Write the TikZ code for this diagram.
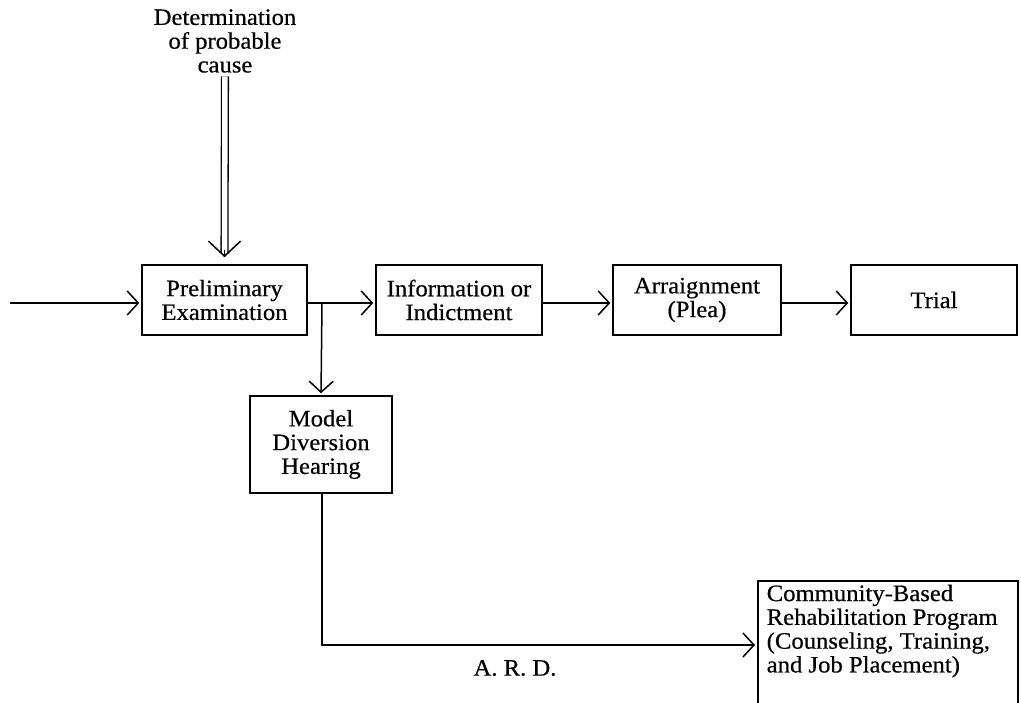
\documentclass[tikz,border=0pt]{standalone}
\usepackage{fontspec}
\setmainfont{Liberation Serif}[FakeStretch=1.05, FakeBold=0.5]
\usetikzlibrary{arrows.meta}
\begin{document}
\begin{tikzpicture}[x=1pt,y=-1pt,
  line width=1.5pt,
  font=\fontsize{23.5}{23.8}\selectfont,
  box/.style={draw, rectangle, align=center, inner sep=0pt},
  arr/.style={-{Straight Barb[length=11pt,width=24pt,line width=1.5pt]}, shorten >=2pt},
  bigarr/.style={-{Straight Barb[length=15pt,width=32pt,line width=1.5pt]}, shorten >=7pt},
]
\useasboundingbox (0,0) rectangle (1021,703);
% boxes
\node[box, minimum width=165pt, minimum height=70pt] (prelim) at (224.5,300) {Preliminary\\Examination};
\node[box, minimum width=166pt, minimum height=70pt] (info) at (459,300) {Information or\\Indictment};
\node[box, minimum width=168pt, minimum height=70pt] (arraign) at (697,300) {Arraignment\\(Plea)};
\node[box, minimum width=166pt, minimum height=70pt] (trial) at (934,300) {Trial};
\node[box, minimum width=142pt, minimum height=97pt] (model) at (321,444.5) {Model\\Diversion\\Hearing};
\node[box, anchor=north west, minimum width=260pt, minimum height=130pt] (comm) at (757,580) {};
\node[anchor=north west, align=left, inner sep=0pt] (commtext) at (766,584) {Community-Based\\Rehabilitation Program\\(Counseling, Training,\\and Job Placement)};
% free text
\node[align=center, inner sep=0pt] (det) at (225,41) {Determination\\of probable\\cause};
\node[inner sep=0pt] (ard) at (515,668) {A. R. D.};
% coordinates
\coordinate (start) at (10,303);
\coordinate (br) at (322,303);
\coordinate (turn) at (322,645);
% connectors
\draw[double, double distance=5.5pt, line width=1.3pt, shorten <=3pt] (det.south) -- ([yshift=11pt]prelim.north);
\draw[bigarr] ([yshift=14pt]prelim.north) -- (prelim.north);
\draw[arr] (start) -- (start -| prelim.west);
\draw[arr] (prelim.east |- br) -- (info.west |- br);
\draw[arr] (br) -- (model.north);
\draw[arr] (info.east |- br) -- (arraign.west |- br);
\draw[arr] (arraign.east |- br) -- (trial.west |- br);
\draw[arr] (model.south -| turn) -- (turn) -- (comm.west |- turn);
\end{tikzpicture}
\end{document}
